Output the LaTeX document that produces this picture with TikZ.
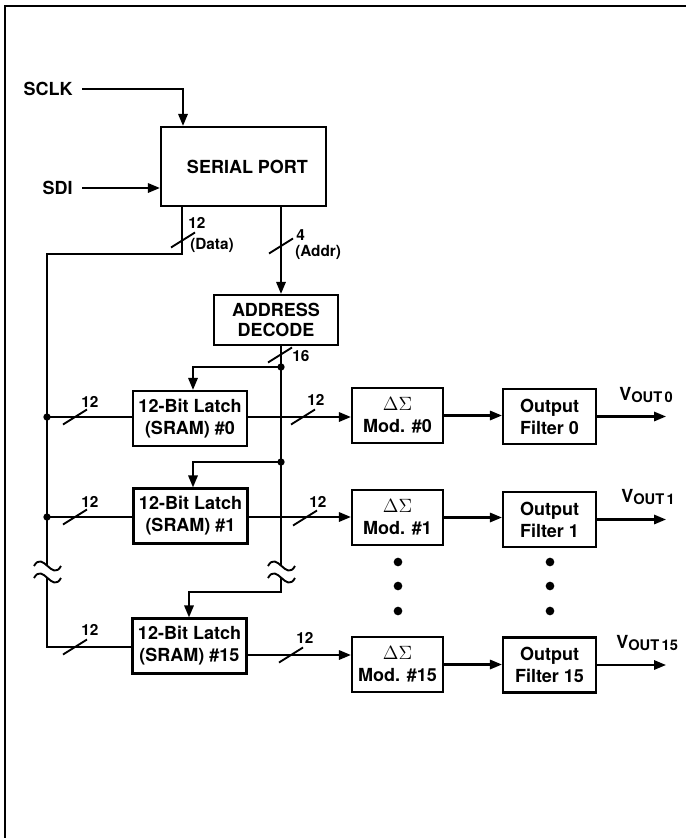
\documentclass[tikz,border=0pt]{standalone}
\usepackage{fontspec}
\setmainfont{TeX Gyre Heros}
\usetikzlibrary{arrows.meta}
\newcommand{\busmark}[2]{\draw[markline] (#1,#2) ++(-12,7.5) -- ++(24,-15);}
\newcommand{\vout}[1]{{\fontsize{13.5}{13.5}\selectfont\bfseries V}{\fontsize{11}{11}\selectfont\bfseries\raisebox{-1.5pt}{OUT\,#1}}}
\begin{document}
\begin{tikzpicture}[x=0.75pt,y=-0.75pt,
  wire/.style={line width=1.6pt},
  markline/.style={line width=1.4pt},
  brkline/.style={line width=1.4pt},
  arr/.style={wire,-{Triangle[length=9pt,width=7pt]}},
  box/.style={draw,line width=1.6pt,align=center,inner sep=0pt,
    font=\fontsize{13.5}{16.5}\selectfont\bfseries},
  lat/.style={box,minimum width=85.5pt,minimum height=41.25pt},
  modbox/.style={box,minimum width=68.25pt,minimum height=41.25pt},
  filt/.style={box,minimum width=69.75pt,minimum height=41.25pt},
  lbl/.style={font=\fontsize{13.5}{16}\selectfont\bfseries,inner xsep=6.75pt,inner ysep=0pt,anchor=east},
  small/.style={font=\fontsize{11.5}{13}\selectfont\bfseries,inner sep=0pt,anchor=west},
  jdot/.style={circle,fill,inner sep=0pt,minimum size=5.5pt},
  edot/.style={circle,fill,inner sep=0pt,minimum size=6.5pt},
]
\useasboundingbox (0,0) rectangle (686,838);
\draw[line width=1.6pt] (5,838) -- (5,6) -- (686,6);

% boxes
\node[box,minimum width=123.75pt,minimum height=59.25pt] (sp) at (243.5,166.5) {\hspace*{6pt}SERIAL PORT};
\node[box,minimum width=93pt,minimum height=37.5pt,font=\fontsize{13.5}{15}\selectfont\bfseries] (ad) at (276,320) {ADDRESS\\DECODE};
\node[lat] (l0) at (190,418.5) {12-Bit Latch\\(SRAM) \#0};
\node[lat] (l1) at (190.5,516) {12-Bit Latch\\(SRAM) \#1};
\node[lat] (l15) at (189.5,646) {12-Bit Latch\\(SRAM) \#15};
\node[modbox] (m0) at (397.5,415.5) {{\mdseries$\Delta\Sigma$}\\Mod. \#0};
\node[modbox] (m1) at (397.5,517.5) {{\mdseries$\Delta\Sigma$}\\Mod. \#1};
\node[modbox] (m15) at (397.5,664.5) {{\mdseries$\Delta\Sigma$}\\Mod. \#15};
\node[filt] (f0) at (549.5,416.5) {Output\\Filter 0};
\node[filt] (f1) at (549.5,519.5) {Output\\Filter 1};
\node[filt] (f15) at (549.5,665) {Output\\Filter 15};

% input labels
\node[lbl] (sclk) at (82,89) {SCLK};
\node[lbl] (sdi) at (82,188) {SDI};

% SCLK, SDI
\coordinate (ck) at (183,89);
\draw[arr] (sclk.east) -- (ck) -- (ck |- sp.north);
\draw[arr] (sdi.east) -- (sdi.east -| sp.west);

% data bus
\coordinate (dc) at (182,254);
\coordinate (dl) at (47,254);
\coordinate (db1) at (47,566);
\coordinate (db2) at (47,578);
\coordinate (dbot) at (47,647);
\coordinate (j0) at (47,417);
\coordinate (j1) at (47,517);
\draw[wire] (dc |- sp.south) -- (dc) -- (dl) -- (db1);
\draw[wire] (db2) -- (dbot) -- (dbot -| l15.west);
\draw[wire] (j0) -- (j0 -| l0.west);
\draw[wire] (j1) -- (j1 -| l1.west);
\node[jdot] (jd0) at (j0) {};
\node[jdot] (jd1) at (j1) {};

% address bus
\coordinate (ac) at (281,0);
\draw[arr] (ac |- sp.south) -- (ac |- ad.north);
\coordinate (ab1) at (281,566);
\coordinate (ab2) at (281,578);
\coordinate (abot) at (281,592);
\coordinate (a15) at (189,592);
\draw[wire] (ac |- ad.south) -- (ab1);
\draw[arr] (ab2) -- (abot) -- (a15) -- (a15 |- l15.north);
\coordinate (k0) at (281,367);
\coordinate (b0) at (193,367);
\coordinate (k1) at (281,462);
\coordinate (b1) at (193,462);
\draw[arr] (k0) -- (b0) -- (b0 |- l0.north);
\draw[arr] (k1) -- (b1) -- (b1 |- l1.north);
\node[jdot] (kd0) at (k0) {};
\node[jdot] (kd1) at (k1) {};

% breaks
\draw[brkline] (34,566) .. controls (43,550) and (52,582) .. (61,566);
\draw[brkline] (34,578) .. controls (43,562) and (52,594) .. (61,578);
\draw[brkline] (268,566) .. controls (277,550) and (286,582) .. (295,566);
\draw[brkline] (268,578) .. controls (277,562) and (286,594) .. (295,578);

% latch -> modulator
\coordinate (r15) at (0,655);
\draw[arr] (l0.east |- j0) -- (m0.west |- j0);
\draw[arr] (l1.east |- j1) -- (m1.west |- j1);
\draw[arr] (l15.east |- r15) -- (m15.west |- r15);

% modulator -> filter
\draw[arr] (m0.east) -- (m0.east -| f0.west);
\draw[arr] (m1.east) -- (m1.east -| f1.west);
\draw[arr] (m15.east) -- (m15.east -| f15.west);

% outputs
\coordinate (oe) at (666,0);
\draw[arr] (f0.east) -- (f0.east -| oe);
\draw[arr] (f1.east) -- (f1.east -| oe);
\draw[arr] (f15.east) -- (f15.east -| oe);
\node[anchor=west,inner sep=0pt] (v0) at (619,395) {\vout{0}};
\node[anchor=west,inner sep=0pt] (v1) at (621,497) {\vout{1}};
\node[anchor=west,inner sep=0pt] (v15) at (616,643) {\vout{15}};

% ellipsis dots
\node[edot] (ed1) at (398,562) {};
\node[edot] (ed2) at (398,586) {};
\node[edot] (ed3) at (398,611) {};
\node[edot] (ed4) at (550,562) {};
\node[edot] (ed5) at (550,586) {};
\node[edot] (ed6) at (550,611) {};

% bus width marks
\busmark{183}{240}
\node[small] (n12d) at (188,223) {12};
\node[small] (ndata) at (190,245) {(Data)};
\busmark{281}{246}
\node[small] (n4) at (296,235) {4};
\node[small] (naddr) at (295,252) {(Addr)};
\busmark{280}{355}
\node[small] (n16) at (292,356) {16};
\busmark{75}{417}
\node[small] (n12a) at (81,402) {12};
\busmark{303}{417}
\node[small] (n12b) at (307,400) {12};
\busmark{75}{517}
\node[small] (n12c) at (81,502) {12};
\busmark{305}{518}
\node[small] (n12e) at (309,502) {12};
\busmark{75}{647}
\node[small] (n12f) at (81,630) {12};
\busmark{291}{655}
\node[small] (n12g) at (296,638) {12};
\end{tikzpicture}
\end{document}
